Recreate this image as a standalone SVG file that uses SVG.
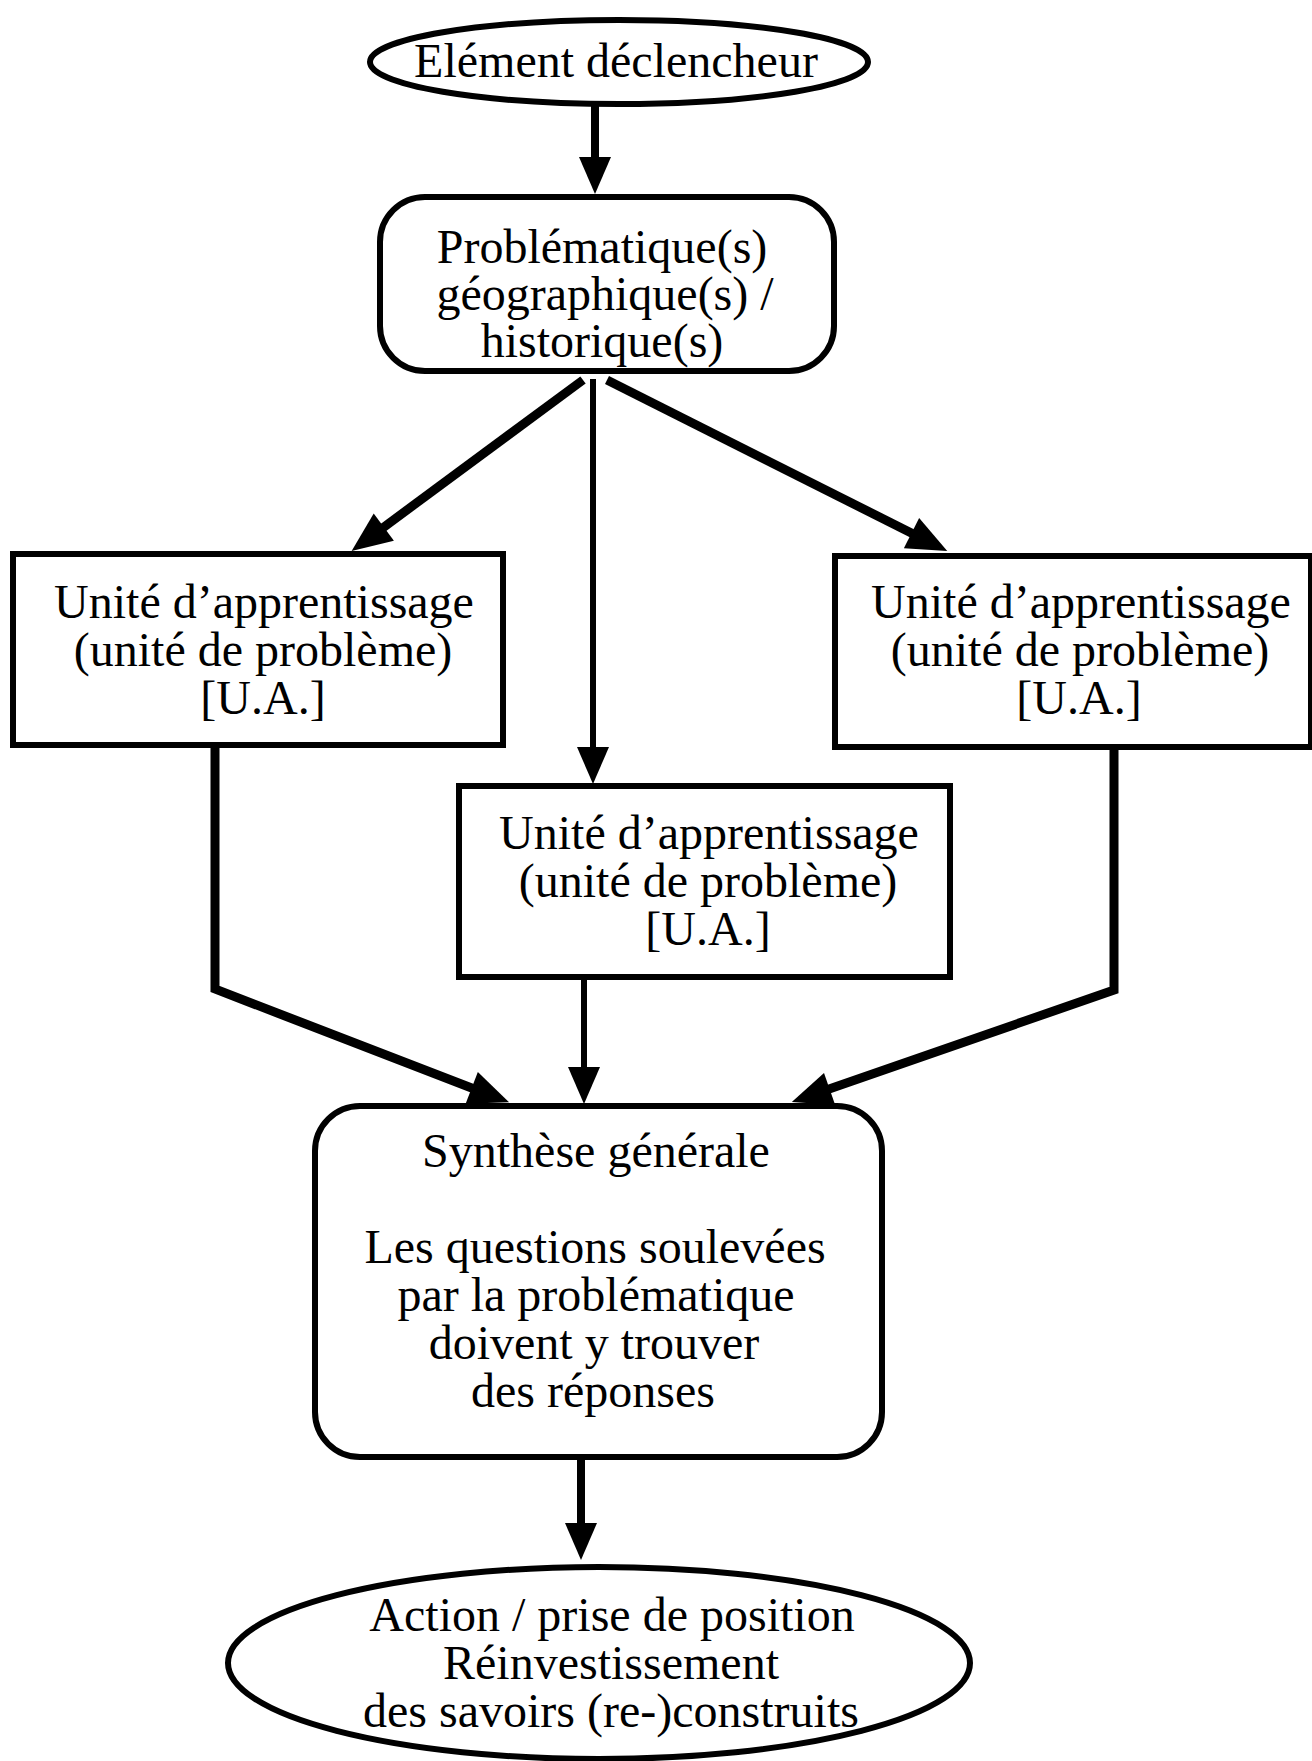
<svg xmlns="http://www.w3.org/2000/svg" width="1312" height="1761" viewBox="0 0 1312 1761">
<style>
.bg{fill:#ffffff}
.shape{fill:#ffffff;stroke:#000000;stroke-width:6}
text{font-family:"Liberation Serif","Times New Roman",serif;font-size:48px;fill:#000000;text-anchor:middle}
.thick{fill:none;stroke:#000000;stroke-width:9;stroke-linejoin:miter}
.mid{fill:none;stroke:#000000;stroke-width:8}
.thin{fill:none;stroke:#000000;stroke-width:6}
</style>
<defs>
<marker id="ahBig" markerUnits="userSpaceOnUse" markerWidth="44" markerHeight="36" refX="2" refY="17" orient="auto" overflow="visible">
<path d="M0,0 L40,17 L0,34 Z" fill="#000000"/>
</marker>
<marker id="ahSmall" markerUnits="userSpaceOnUse" markerWidth="40" markerHeight="34" refX="2" refY="16" orient="auto" overflow="visible">
<path d="M0,0 L37,16 L0,32 Z" fill="#000000"/>
</marker>
</defs>
<rect class="bg" x="0" y="0" width="1312" height="1761"/>

<g id="connectors">
<path class="mid" d="M595,104 V159" marker-end="url(#ahSmall)"/>
<path class="thick" d="M583,380 L382.2,528.3" marker-end="url(#ahBig)"/>
<path class="thin" d="M593,379 V749" marker-end="url(#ahSmall)"/>
<path class="thick" d="M607,380 L913.3,534" marker-end="url(#ahBig)"/>
<path class="thick" d="M215,745 V989 L473.6,1088.7" marker-end="url(#ahBig)"/>
<path class="thin" d="M584,977 V1069" marker-end="url(#ahSmall)"/>
<path class="thick" d="M1114,747 V990 L827.7,1089.6" marker-end="url(#ahBig)"/>
<path class="mid" d="M581,1457 V1525" marker-end="url(#ahSmall)"/>
</g>

<g id="n-declencheur">
<ellipse class="shape" cx="619" cy="62" rx="249" ry="42"/>
<text x="616" y="77">Elément déclencheur</text>
</g>

<g id="n-problematique">
<rect class="shape" x="380" y="197" width="454" height="174" rx="45" ry="45"/>
<text x="602" y="263">Problématique(s)</text>
<text x="605" y="310">géographique(s) /</text>
<text x="602" y="357">historique(s)</text>
</g>

<g id="n-ua-left">
<rect class="shape" x="13" y="554" width="490" height="191"/>
<text x="264" y="618">Unité d’apprentissage</text>
<text x="263" y="666">(unité de problème)</text>
<text x="263" y="714">[U.A.]</text>
</g>

<g id="n-ua-right">
<rect class="shape" x="835" y="556" width="476" height="191"/>
<text x="1081" y="618">Unité d’apprentissage</text>
<text x="1080" y="666">(unité de problème)</text>
<text x="1079" y="714">[U.A.]</text>
</g>

<g id="n-ua-middle">
<rect class="shape" x="459" y="786" width="491" height="191"/>
<text x="709" y="849">Unité d’apprentissage</text>
<text x="708" y="897">(unité de problème)</text>
<text x="708" y="945">[U.A.]</text>
</g>

<g id="n-synthese">
<rect class="shape" x="315" y="1106" width="567" height="351" rx="45" ry="45"/>
<text x="596" y="1167">Synthèse générale</text>
<text x="595" y="1263">Les questions soulevées</text>
<text x="596" y="1311">par la problématique</text>
<text x="594" y="1359">doivent y trouver</text>
<text x="593" y="1407">des réponses</text>
</g>

<g id="n-action">
<ellipse class="shape" cx="599" cy="1663" rx="371" ry="96"/>
<text x="612" y="1631">Action / prise de position</text>
<text x="611" y="1679">Réinvestissement</text>
<text x="611" y="1727">des savoirs (re-)construits</text>
</g>
</svg>
